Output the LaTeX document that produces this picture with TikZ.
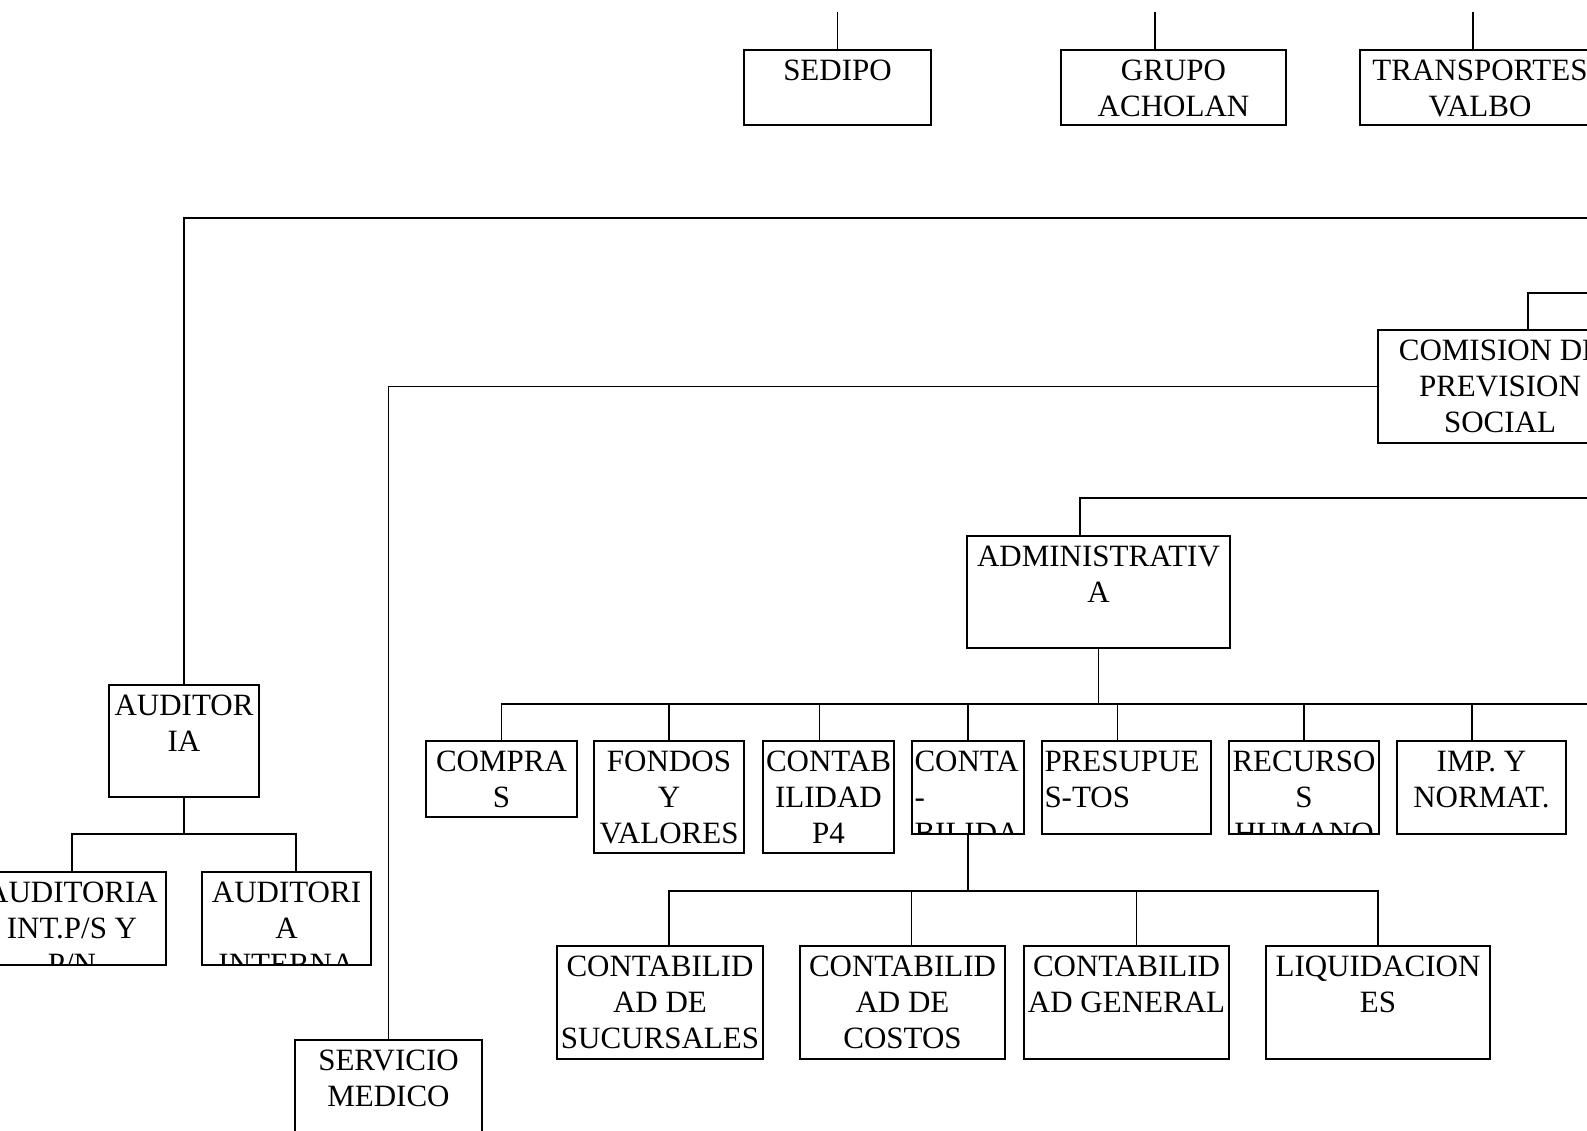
\documentclass[tikz,border=0pt]{standalone}
\usepackage{fontspec}
\setmainfont{Liberation Serif}
\usepackage{tikz}
\usetikzlibrary{positioning}

\newcommand{\orgfont}{\fontsize{31}{36}\selectfont}

\tikzset{
  unit/.style={draw, rectangle, line width=1.6pt, inner sep=0pt, outer sep=0pt},
  ctr/.style={path picture={\node[draw=none, anchor=north, inner sep=0pt, minimum width=0pt, minimum height=0pt, align=center, font=\orgfont] at ([yshift=-5.3pt]path picture bounding box.north) {\strut #1};}},
  lft/.style={path picture={\node[draw=none, anchor=north west, inner sep=0pt, minimum width=0pt, minimum height=0pt, align=left, font=\orgfont] at ([xshift=2.5pt, yshift=-5.3pt]path picture bounding box.north west) {\strut #1};}},
  link/.style={line width=1.6pt}
}

\begin{document}
\begin{tikzpicture}[x=1pt, y=-1pt]
\useasboundingbox (0,0) rectangle (1587,1131);
\clip (0,0) rectangle (1587,1131);

% nodes %
\node[unit, ctr={SEDIPO}, minimum width=187pt, minimum height=75pt, anchor=north west] (sedipo) at (744,50) {};
\node[unit, ctr={GRUPO\\ACHOLAN}, minimum width=225pt, minimum height=75pt, right=130pt of sedipo] (grupo) {};
\node[unit, ctr={TRANSPORTES\\VALBO}, minimum width=240pt, minimum height=75pt, right=74pt of grupo] (transp) {};

\node[unit, ctr={COMISION DE\\PREVISION\\SOCIAL}, minimum width=244pt, minimum height=113pt, anchor=north west] (comision) at (1378,330) {};
\node[unit, ctr={ADMINISTRATIV\\A}, minimum width=263pt, minimum height=112pt, anchor=north west] (adm) at (967,536) {};

\node[unit, ctr={AUDITOR\\IA}, minimum width=150pt, minimum height=112pt, anchor=north west] (auditoria) at (109,685) {};
\node[unit, ctr={AUDITORIA\\INT.P/S Y\\P/N}, minimum width=188pt, minimum height=93pt, anchor=north west] (audint) at (-22,872) {};
\node[unit, ctr={AUDITORI\\A\\INTERNA}, minimum width=169pt, minimum height=93pt, right=36pt of audint] (audinterna) {};
\node[unit, ctr={SERVICIO\\MEDICO}, minimum width=187pt, minimum height=112pt, anchor=north west] (servicio) at (295,1040) {};

\node[unit, ctr={COMPRA\\S}, minimum width=151pt, minimum height=76pt, anchor=north west] (compras) at (426,741) {};
\node[unit, ctr={FONDOS\\Y\\VALORES}, minimum width=150pt, minimum height=112pt, right=17pt of compras.north east, anchor=north west] (fondos) {};
\node[unit, ctr={CONTAB\\ILIDAD\\P4}, minimum width=131pt, minimum height=112pt, right=19pt of fondos] (contab) {};
\node[unit, lft={CONTA\\-\\BILIDA}, minimum width=112pt, minimum height=93pt, right=18pt of contab.north east, anchor=north west] (conta) {};
\node[unit, lft={PRESUPUE\\S-TOS}, minimum width=169pt, minimum height=93pt, right=18pt of conta] (presup) {};
\node[unit, ctr={RECURSO\\S\\HUMANO}, minimum width=150pt, minimum height=93pt, right=18pt of presup] (recursos) {};
\node[unit, ctr={IMP. Y\\NORMAT.}, minimum width=169pt, minimum height=93pt, right=18pt of recursos] (imp) {};

\node[unit, ctr={CONTABILID\\AD DE\\SUCURSALES}, minimum width=206pt, minimum height=113pt, anchor=north west] (csuc) at (557,946) {};
\node[unit, ctr={CONTABILID\\AD DE\\COSTOS}, minimum width=205pt, minimum height=113pt, right=37pt of csuc] (ccost) {};
\node[unit, ctr={CONTABILID\\AD GENERAL}, minimum width=205pt, minimum height=113pt, right=19pt of ccost] (cgen) {};
\node[unit, ctr={LIQUIDACION\\ES}, minimum width=224pt, minimum height=113pt, right=37pt of cgen] (liq) {};

% edges %
\coordinate (topcut) at (0,12);
\coordinate (rimA) at (1600,218);
\coordinate (rimB) at (1600,293);
\coordinate (rimC) at (1600,498);
\coordinate (rimD) at (1600,704);
\coordinate (busAud) at (0,834);
\coordinate (busCon) at (0,891);

%top%
\draw[link] (sedipo.north) -- (sedipo.north |- topcut);
\draw[link] ([xshift=-18.5pt]grupo.north) -- ([xshift=-18.5pt]grupo.north |- topcut);
\draw[link] ([xshift=-7pt]transp.north) -- ([xshift=-7pt]transp.north |- topcut);

%AUDITORIA%
\draw[link] (auditoria.north) |- (rimA);
\draw[link] (auditoria.south) -- (auditoria.south |- busAud);
\draw[link] (audint.north) |- ([xshift=9.5pt]audinterna.north |- busAud) -- ([xshift=9.5pt]audinterna.north);

%COMISION%
\draw[link] ([xshift=28pt]comision.north) |- (rimB);
\draw[link] (comision.west) -| (servicio.north);

%ADMINISTRATIVA%
\draw[link] ([xshift=-18.5pt]adm.north) |- (rimC);
\draw[link] (adm.south) -- (adm.south |- rimD);
\draw[link] (compras.north) |- (rimD);
\draw[link] (fondos.north) -- (fondos.north |- rimD);
\draw[link] ([xshift=-9pt]contab.north) -- ([xshift=-9pt]contab.north |- rimD);
\draw[link] (conta.north) -- (conta.north |- rimD);
\draw[link] ([xshift=-9pt]presup.north) -- ([xshift=-9pt]presup.north |- rimD);
\draw[link] (recursos.north) -- (recursos.north |- rimD);
\draw[link] ([xshift=-9.5pt]imp.north) -- ([xshift=-9.5pt]imp.north |- rimD);

%CONTABILIDAD%
\draw[link] (conta.south) -- (conta.south |- busCon);
\draw[link] ([xshift=9pt]csuc.north) |- (liq.north |- busCon) -- (liq.north);
\draw[link] ([xshift=9pt]ccost.north) -- ([xshift=9pt]ccost.north |- busCon);
\draw[link] ([xshift=10pt]cgen.north) -- ([xshift=10pt]cgen.north |- busCon);

\end{tikzpicture}
\end{document}
